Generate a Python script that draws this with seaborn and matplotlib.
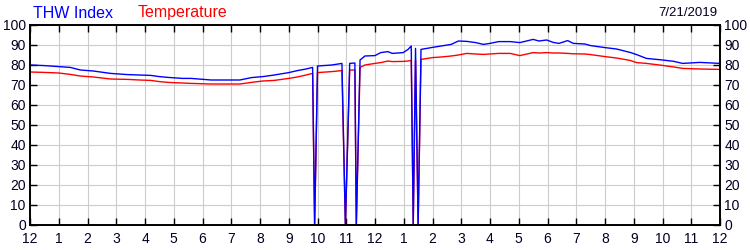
import matplotlib
matplotlib.use("Agg")
import matplotlib.pyplot as plt
import seaborn as sns
import pandas as pd

hours = [0.0, 0.5, 1.0, 1.4, 1.75, 2.2, 2.8, 3.4, 3.8, 4.2, 4.5, 4.8, 5.3, 5.6,
         6.3, 7.3, 7.7, 8.1, 8.5, 9.0, 9.3, 9.6, 9.83, 9.9, 10.0, 10.5, 10.85,
         10.97, 11.12, 11.3, 11.35, 11.48, 11.65, 12.0, 12.2, 12.45, 12.6, 12.98,
         13.15, 13.26, 13.33, 13.41, 13.5, 13.6, 14.0, 14.3, 14.65, 14.9, 15.2,
         15.5, 15.77, 16.0, 16.3, 16.7, 17.04, 17.5, 17.7, 17.97, 18.2, 18.4,
         18.7, 18.9, 19.3, 19.5, 20.0, 20.4, 20.87, 21.1, 21.44, 22.0, 22.4,
         22.7, 23.3, 24.0]
thw_index = [80.0, 79.7, 79.2, 78.8, 77.5, 77.0, 75.8, 75.2, 75.0, 74.8, 74.2,
             73.8, 73.3, 73.3, 72.5, 72.5, 73.7, 74.2, 75.0, 76.2, 77.2, 78.0,
             78.8, 0.0, 79.5, 80.0, 80.8, 0.0, 80.8, 81.0, 0.0, 82.5, 84.5, 84.7,
             86.2, 86.7, 85.8, 86.2, 87.8, 89.5, 0.0, 88.3, 0.0, 87.8, 88.8, 89.5,
             90.3, 92.0, 91.8, 91.2, 90.3, 90.8, 91.7, 91.7, 91.2, 92.8, 92.0,
             92.5, 91.3, 90.8, 92.2, 90.8, 90.5, 89.7, 88.7, 88.0, 86.3, 85.2,
             83.3, 82.5, 81.8, 80.8, 81.3, 80.8]
temperature = [76.5, 76.3, 76.0, 75.3, 74.5, 74.0, 73.0, 72.8, 72.5, 72.3, 71.7,
               71.3, 71.0, 70.8, 70.5, 70.5, 71.3, 72.0, 72.3, 73.3, 74.0, 75.0,
               75.8, 0.0, 76.2, 76.7, 77.2, 0.0, 77.5, 77.5, 0.0, 78.8, 80.0, 80.8,
               81.2, 82.0, 81.7, 81.8, 82.0, 82.3, 0.0, 82.5, 0.0, 82.8, 83.7, 84.0,
               84.5, 85.0, 85.8, 85.5, 85.3, 85.5, 85.8, 85.8, 84.7, 86.2, 86.0,
               86.2, 86.0, 86.0, 85.8, 85.6, 85.5, 85.2, 84.2, 83.5, 82.3, 81.2,
               80.8, 79.8, 79.0, 78.3, 78.0, 77.8]
x_ticks = list(range(0, 25))
x_labels = ["12", "1", "2", "3", "4", "5", "6", "7", "8", "9", "10", "11",
            "12", "1", "2", "3", "4", "5", "6", "7", "8", "9", "10", "11", "12"]
y_ticks = list(range(0, 101, 10))
date_label = "7/21/2019"

df = pd.DataFrame({"hour": hours, "thw": thw_index, "temp": temperature})

sns.set_theme(style="white")
plt.rcParams["font.family"] = ["Liberation Sans", "DejaVu Sans"]

fig = plt.figure(figsize=(7.5, 2.5), dpi=100)
ax = fig.add_axes([0.04, 0.1, 0.92, 0.8])

sns.lineplot(data=df, x="hour", y="temp", ax=ax, color="#ff0000",
             linewidth=1.0, estimator=None, sort=False)
sns.lineplot(data=df, x="hour", y="thw", ax=ax, color="#0000ff",
             linewidth=1.0, estimator=None, sort=False)

ax.set_xlim(0, 24)
ax.set_ylim(0, 100)
ax.set_xticks(x_ticks)
ax.set_xticklabels(x_labels)
ax.set_yticks(y_ticks)
ax.set_xlabel("")
ax.set_ylabel("")
ax.grid(True, color="#cccccc", linewidth=0.8)
ax.set_axisbelow(True)
for s in ax.spines.values():
    s.set_color("black")
    s.set_linewidth(1.4)
ax.tick_params(axis="both", which="both", direction="in", length=5, width=1,
               color="black", labelsize=10, labelcolor="#000022",
               top=True, right=True, left=True, bottom=True,
               labelleft=True, labelright=True, labelbottom=True)
ax.tick_params(axis="x", pad=5)
ax.tick_params(axis="y", pad=3)

fig.text(0.044, 0.948, "THW Index", color="#0000ff", fontsize=11.5, va="center")
fig.text(0.183, 0.948, "Temperature", color="#ff0000", fontsize=11.5, va="center")
fig.text(0.957, 0.948, date_label, color="#000022", fontsize=9.5, va="center", ha="right")

fig.savefig("out.png", dpi=100)
